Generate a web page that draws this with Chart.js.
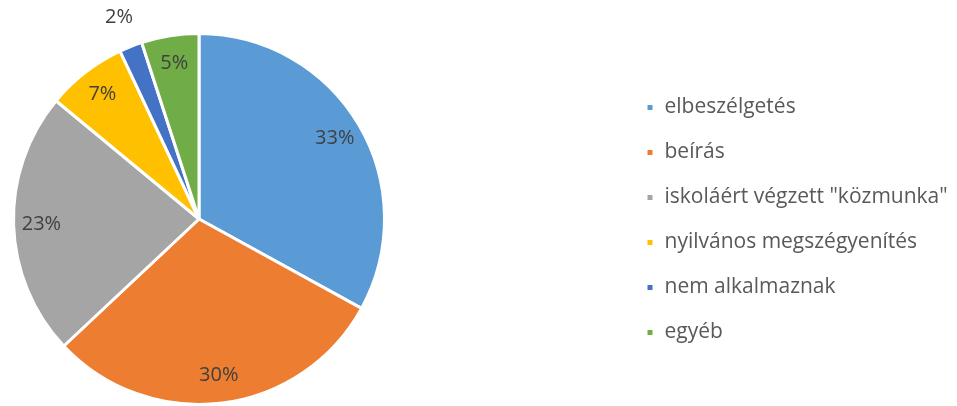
<!DOCTYPE html>
<html>
<head>
<meta charset="utf-8">
<script src="https://cdn.jsdelivr.net/npm/chart.js@4/dist/chart.umd.min.js"></script>
<style>
  html, body { margin: 0; padding: 0; background: #fff; }
  #wrap { width: 957px; height: 406px; position: relative; }
</style>
</head>
<body>
<div id="wrap"><canvas id="grafica"></canvas></div>
<script>
// adatok
const categories = ['elbeszélgetés', 'beírás', 'iskoláért végzett "közmunka"', 'nyilvános megszégyenítés', 'nem alkalmaznak', 'egyéb'];
const values = [33, 30, 23, 7, 2, 5];
const colors = ['#5B9BD5', '#ED7D31', '#A5A5A5', '#FFC000', '#4472C4', '#70AD47'];

const fontFamily = '"Open Sans", sans-serif';

// szazalek cimkek a szeletekre
const sliceLabels = {
    id: 'sliceLabels',
    afterDatasetsDraw(chart) {
        const ctx = chart.ctx;
        const meta = chart.getDatasetMeta(0);
        const total = values.reduce((a, b) => a + b, 0);
        ctx.save();
        ctx.font = '20px ' + fontFamily;
        ctx.fillStyle = '#404040';
        ctx.textAlign = 'center';
        ctx.textBaseline = 'middle';
        meta.data.forEach(function(arc, i) {
            const p = arc.getProps(['x', 'y', 'startAngle', 'endAngle', 'outerRadius'], true);
            const mid = (p.startAngle + p.endAngle) / 2;
            const pct = values[i] / total * 100;
            // kis szelet: kivul
            const r = pct < 3 ? p.outerRadius * 1.17 : p.outerRadius * 0.85;
            ctx.fillText(Math.round(pct) + '%', p.x + Math.cos(mid) * r, p.y + Math.sin(mid) * r);
        });
        ctx.restore();
    }
};

// jelmagyarazat szelessege es helye
const legendPlace = {
    id: 'legendPlace',
    beforeInit(chart) {
        const orig = chart.legend.fit;
        chart.legend.fit = function() {
            orig.call(this);
            this.width = 571;
        };
    },
    beforeDraw(chart) {
        const lg = chart.legend;
        const w = lg.right - lg.left;
        const h = lg.bottom - lg.top;
        lg.left = 646 - 24;
        lg.right = lg.left + w;
        lg.top = chart.chartArea.top + 1;
        lg.bottom = lg.top + h;
    }
};

const data = {
    labels: categories,
    datasets: [{
        data: values,
        backgroundColor: colors,
        borderColor: '#ffffff',
        borderWidth: 3
    }]
};

const config = {
    type: 'pie',
    data: data,
    options: {
        responsive: true,
        maintainAspectRatio: false,
        animation: false,
        layout: {
            padding: { top: 32, left: 12, right: 0, bottom: 0 }
        },
        plugins: {
            tooltip: { enabled: false },
            legend: {
                position: 'right',
                align: 'center',
                labels: {
                    boxWidth: 8,
                    boxHeight: 8,
                    padding: 24,
                    color: '#595959',
                    font: { family: fontFamily, size: 21 }
                }
            }
        }
    },
    plugins: [sliceLabels, legendPlace]
};

new Chart(document.getElementById('grafica'), config);
</script>
</body>
</html>
